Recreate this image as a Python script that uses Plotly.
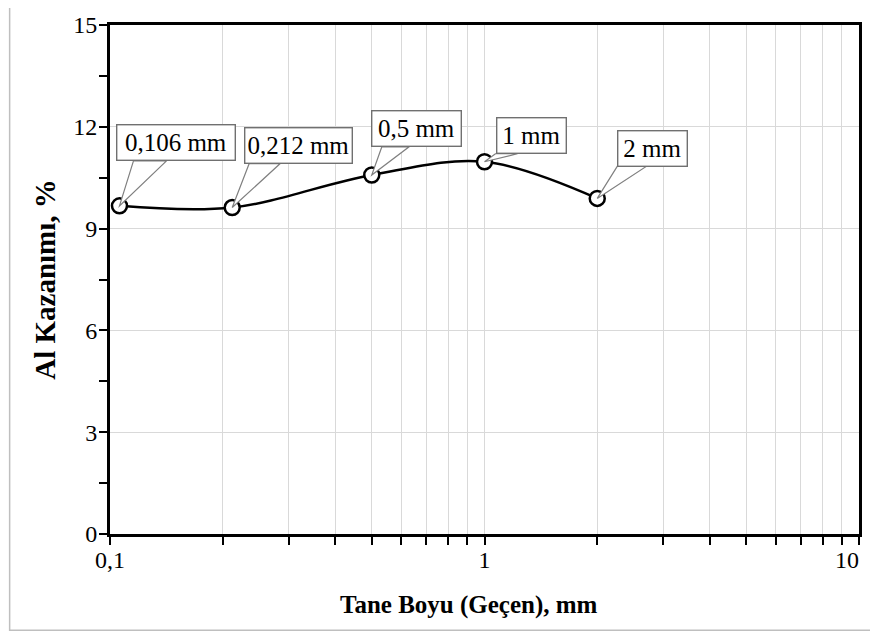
import math
import plotly.graph_objects as go

# ---- data ----
sizes_mm = [0.106, 0.212, 0.5, 1.0, 2.0]
al_gain = [9.67, 9.62, 10.58, 10.97, 9.89]
point_labels = ["0,106 mm", "0,212 mm", "0,5 mm", "1 mm", "2 mm"]
x_tick_vals = [0.1, 1, 10]
x_tick_text = ["0,1", "1", ""]          # last label drawn right-aligned below
x_last_label = "10"
y_tick_vals = [0, 3, 6, 9, 12, 15]
x_title = "Tane Boyu (Geçen), mm"
y_title = "Al Kazanımı, %"

# ---- label layout (pixel offsets from each point: box centre, wedge base) ----
box_offsets = [(57, 63), (66, 62), (45, 46), (47, 26), (55, 50)]
box_widths = [115, 104, 86, 66, 66]
wedge_bases = [(14, 47, 45), (17, 48, 44), (10, 37, 28), (11, 33, 8), (20, 49, 32)]

FONT = "Liberation Serif"
GRID = "#d9d9d9"

fig = go.Figure()
fig.add_trace(go.Scatter(
    x=sizes_mm, y=al_gain, mode="lines+markers",
    line=dict(color="black", width=2.5, shape="spline", smoothing=1),
    marker=dict(symbol="circle", size=15, color="white",
                line=dict(color="black", width=2.5)),
    showlegend=False, hoverinfo="skip"))

minor_x = [m * 10 ** d for d in (-1, 0) for m in range(2, 10)]

shapes = []
annotations = []
for xv, yv, txt, (dx, dy), w, (a, b, h) in zip(sizes_mm, al_gain, point_labels,
                                               box_offsets, box_widths, wedge_bases):
    shapes.append(dict(
        type="path", xref="x", yref="y", xsizemode="pixel", ysizemode="pixel",
        xanchor=xv, yanchor=yv,
        path=f"M {a},{h} L 0,0 L {b},{h} Z",
        line=dict(color="#7f7f7f", width=1.2), fillcolor="white", layer="above"))
    annotations.append(dict(
        x=math.log10(xv), y=yv, xref="x", yref="y", xshift=dx, yshift=dy,
        text=txt, showarrow=False, width=w, height=32,
        font=dict(family=FONT, size=25, color="black"),
        bgcolor="white", bordercolor="#707070", borderwidth=1.4, borderpad=1))

# last x tick label, kept inside the chart (right-aligned on its tick)
annotations.append(dict(
    x=math.log10(x_tick_vals[-1]), y=-0.052, xref="x", yref="paper",
    xanchor="right", yanchor="middle", xshift=2,
    text=x_last_label, showarrow=False,
    font=dict(family=FONT, size=24, color="black")))

# x-axis title (placed slightly left of centre, as in the original)
annotations.append(dict(
    x=0.479, y=-0.14, xref="paper", yref="paper", xanchor="center", yanchor="middle",
    text=f"<b>{x_title}</b>", showarrow=False,
    font=dict(family=FONT, size=25, color="black")))

# outer light-gray frame of the chart
shapes.append(dict(type="rect", xref="paper", yref="paper",
                   x0=-0.134, y0=-0.189, x1=1.06, y1=1.2,
                   line=dict(color="#bfbfbf", width=1.5), layer="below"))

fig.update_layout(
    width=870, height=627,
    margin=dict(l=102, r=19, t=17, b=101),
    paper_bgcolor="white", plot_bgcolor="white",
    separators=", ",
    font=dict(family=FONT, color="black"),
    shapes=shapes, annotations=annotations,
    xaxis=dict(
        type="log", range=[-1, 1], automargin=False,
        tickvals=x_tick_vals, ticktext=x_tick_text,
        showline=True, linecolor="black", linewidth=3, mirror=True,
        ticks="outside", ticklen=8, tickwidth=2, tickcolor="black",
        showgrid=True, gridcolor=GRID, gridwidth=1,
        tickfont=dict(family=FONT, size=24, color="black"),
        ticklabelstandoff=-6,
        minor=dict(tickvals=minor_x, ticks="outside", ticklen=8, tickwidth=2,
                   tickcolor="black", showgrid=True, gridcolor=GRID, gridwidth=1),
        zeroline=False),
    yaxis=dict(
        range=[0, 15], tickvals=y_tick_vals, automargin=False,
        showline=True, linecolor="black", linewidth=3, mirror=True,
        ticks="outside", ticklen=8, tickwidth=2, tickcolor="black",
        showgrid=True, gridcolor=GRID, gridwidth=1,
        tickfont=dict(family=FONT, size=24, color="black"),
        ticklabelstandoff=-3,
        minor=dict(dtick=1.5, tick0=0, ticks="outside", ticklen=8, tickwidth=2,
                   tickcolor="black", showgrid=False),
        title=dict(text=f"<b>{y_title}</b>", standoff=10,
                   font=dict(family=FONT, size=29, color="black")),
        zeroline=False),
)

fig.write_html("out.html")
